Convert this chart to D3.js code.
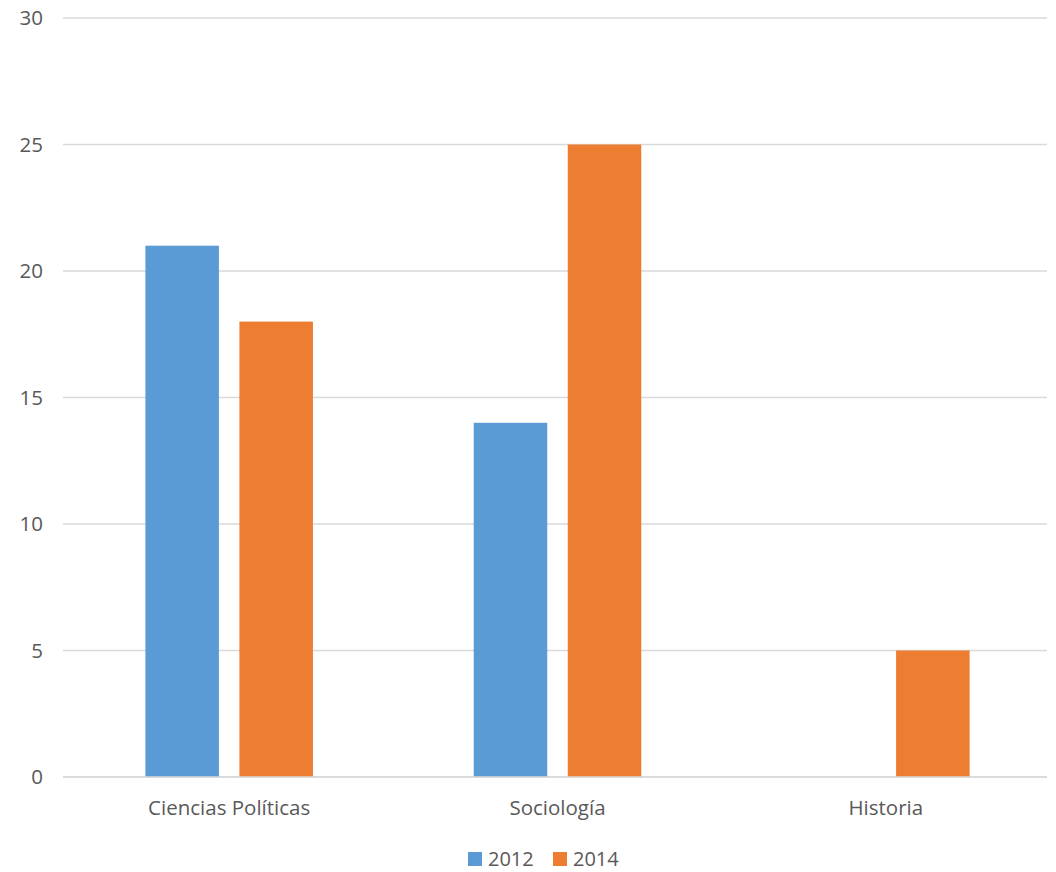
<!DOCTYPE html>
<html><head><meta charset="utf-8">
<script src="https://cdn.jsdelivr.net/npm/d3@7"></script>
<style>body{margin:0;background:#fff}svg text{font-family:"Open Sans",sans-serif;fill:#595959}</style>
</head><body><svg id="c" width="1056" height="872"></svg>
<script>
const categories = ["Ciencias Políticas", "Sociología", "Historia"];
const seriesNames = ["2012", "2014"];
const values2012 = [21, 14, 0];
const values2014 = [18, 25, 5];
const yTicks = [0, 5, 10, 15, 20, 25, 30];
const colors = ["#5b9bd5", "#ed7d31"];

(function () {
const svg = d3.select("#c");
const mLeft = 65, mRight = 1050, gridRight = 1047, mTop = 18, mBottom = 777;
const fs = 20.5;
const y = d3.scaleLinear().domain([0, 30]).range([mBottom, mTop]);
const x0 = d3.scaleBand().domain(categories).range([mLeft, mRight]).paddingInner(0).paddingOuter(0);
const x1 = d3.scaleBand().domain(seriesNames).range([0, x0.bandwidth()]).paddingInner(0.218).paddingOuter(0.855);

svg.append("g").selectAll("line").data(yTicks).join("line")
  .attr("x1", mLeft - 2).attr("x2", gridRight).attr("y1", d => y(d)).attr("y2", d => y(d))
  .attr("stroke", "#d9d9d9").attr("stroke-width", 1.5);

svg.append("g").selectAll("text").data(yTicks).join("text")
  .attr("x", 43).attr("y", d => y(d)).attr("dy", "0.35em").attr("text-anchor", "end")
  .attr("font-size", fs).text(d => d);

const data = categories.map((c, i) => ({cat: c, vals: [values2012[i], values2014[i]]}));
const g = svg.append("g").selectAll("g").data(data).join("g")
  .attr("transform", d => `translate(${x0(d.cat)},0)`);
g.selectAll("rect").data(d => d.vals.map((v, j) => ({s: seriesNames[j], v, j}))).join("rect")
  .attr("x", d => x1(d.s)).attr("width", x1.bandwidth())
  .attr("y", d => y(d.v)).attr("height", d => mBottom - y(d.v))
  .attr("fill", d => colors[d.j]);

svg.append("line").attr("x1", mLeft - 2).attr("x2", gridRight).attr("y1", y(0)).attr("y2", y(0))
  .attr("stroke", "#d9d9d9").attr("stroke-width", 1.5);

svg.append("g").selectAll("text").data(categories).join("text")
  .attr("x", d => x0(d) + x0.bandwidth() / 2).attr("y", 808).attr("dy", "0.35em")
  .attr("text-anchor", "middle").attr("font-size", fs).text(d => d);

const legX = [468, 553];
const lg = svg.append("g").selectAll("g").data(seriesNames).join("g")
  .attr("transform", (d, i) => `translate(${legX[i]},852)`);
lg.append("rect").attr("width", 14).attr("height", 14).attr("fill", (d, i) => colors[i]);
lg.append("text").attr("x", 20).attr("y", 7).attr("dy", "0.35em").attr("font-size", 20).text(d => d);
})();
</script></body></html>
